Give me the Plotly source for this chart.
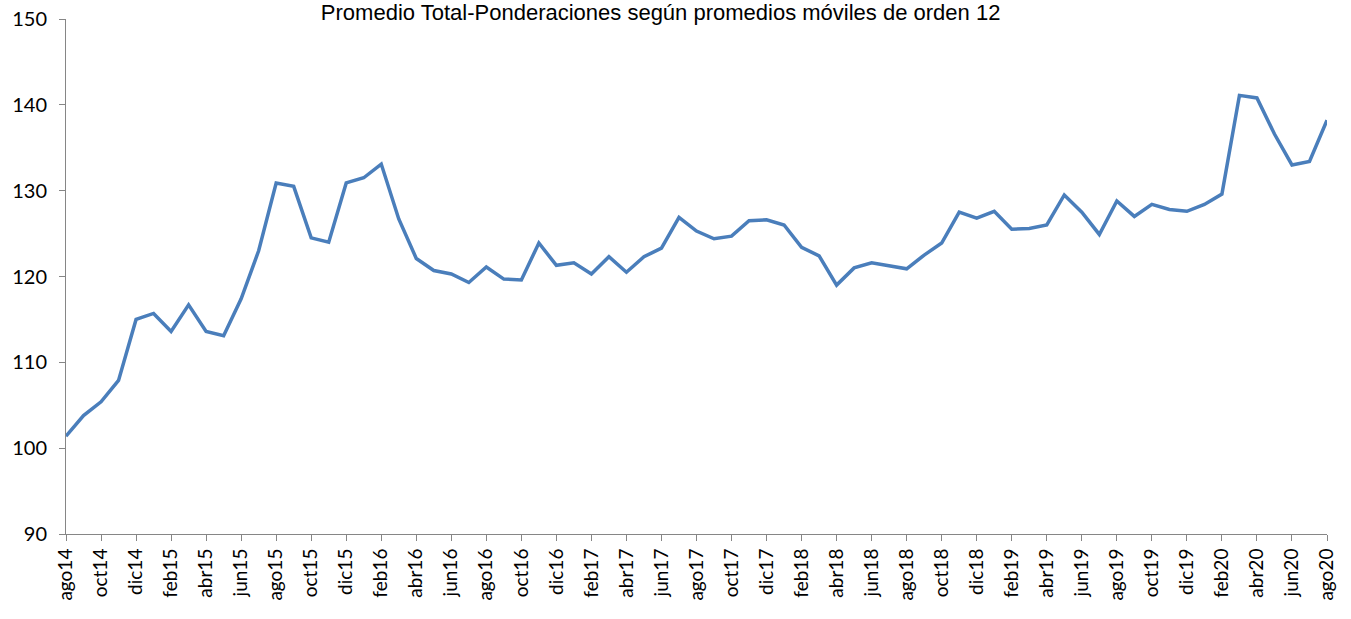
import plotly.graph_objects as go

# Monthly labels, ago14 .. ago20
meses = ["ene", "feb", "mar", "abr", "may", "jun", "jul", "ago", "sep", "oct", "nov", "dic"]
periodos = []
for anio in range(14, 21):
    for m in meses:
        periodos.append(f"{m}{anio}")
periodos = periodos[periodos.index("ago14"):periodos.index("ago20") + 1]

promedio = [
    101.4, 103.8, 105.4, 107.9, 115.0, 115.7, 113.6, 116.7, 113.6, 113.1,
    117.4, 123.0, 130.9, 130.5, 124.5, 124.0, 130.9, 131.5, 133.1, 126.7,
    122.1, 120.7, 120.3, 119.3, 121.1, 119.7, 119.6, 123.9, 121.3, 121.6,
    120.3, 122.3, 120.5, 122.3, 123.3, 126.9, 125.3, 124.4, 124.7, 126.5,
    126.6, 126.0, 123.4, 122.4, 119.0, 121.0, 121.6, 121.2, 120.9, 122.5,
    123.9, 127.5, 126.8, 127.6, 125.5, 125.6, 126.0, 129.5, 127.5, 124.9,
    128.8, 127.0, 128.4, 127.8, 127.6, 128.4, 129.6, 141.1, 140.8, 136.6,
    133.0, 133.4, 138.2,
]

etiquetas = periodos[::2]
y_ticks = [90, 100, 110, 120, 130, 140, 150]

fig = go.Figure()
fig.add_trace(go.Scatter(
    x=list(range(len(periodos))),
    y=promedio,
    mode="lines",
    line=dict(color="#4a7ebb", width=3.5),
    hoverinfo="skip",
    showlegend=False,
))

fig.update_layout(
    width=1351,
    height=619,
    margin=dict(l=66, r=24, t=19, b=85, autoexpand=False),
    paper_bgcolor="white",
    plot_bgcolor="white",
    title=dict(
        text="Promedio Total-Ponderaciones según promedios móviles de orden 12",
        x=0.489,
        xanchor="center",
        y=1.0,
        yanchor="top",
        yref="container",
        pad=dict(t=5),
        font=dict(family="Liberation Sans Narrow, Arial Narrow, Liberation Sans", size=22, color="#000000"),
    ),
    xaxis=dict(
        range=[0, len(periodos) - 1],
        automargin=False,
        tickmode="array",
        tickvals=list(range(0, len(periodos), 2)),
        ticktext=etiquetas,
        tickangle=-90,
        ticks="outside",
        ticklen=6,
        tickcolor="#868686",
        showline=True,
        linecolor="#868686",
        linewidth=1,
        showgrid=False,
        zeroline=False,
        tickfont=dict(family="Lato, Carlito, sans-serif", size=19, color="#000000"),
    ),
    yaxis=dict(
        range=[90, 150],
        automargin=False,
        tickmode="array",
        tickvals=y_ticks,
        ticks="outside",
        ticklen=6,
        tickcolor="#868686",
        showline=True,
        linecolor="#868686",
        linewidth=1,
        showgrid=False,
        zeroline=False,
        ticklabelstandoff=8,
        tickfont=dict(family="Lato, Carlito, sans-serif", size=20, color="#000000"),
    ),
)

fig.write_html("out.html")
